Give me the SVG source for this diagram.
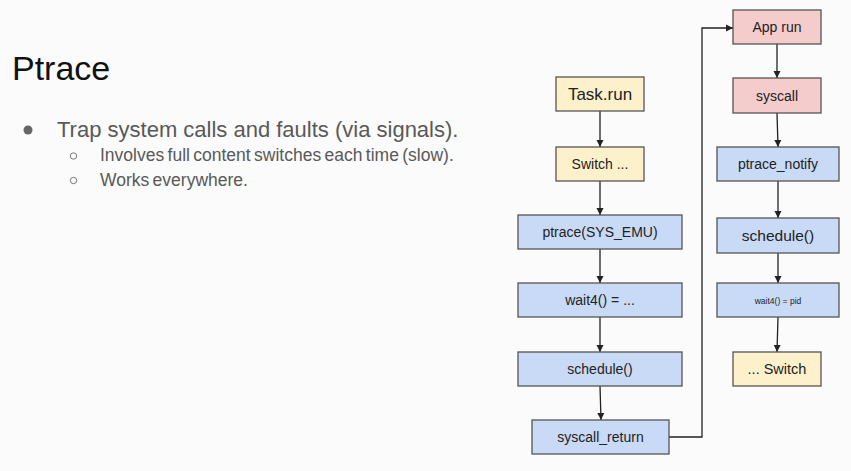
<svg xmlns="http://www.w3.org/2000/svg" width="851" height="471" viewBox="0 0 851 471">
<defs>
<marker id="ah" viewBox="0 0 10 10" refX="10" refY="5" markerWidth="7" markerHeight="8" markerUnits="userSpaceOnUse" orient="auto">
<path d="M0,0 L10,5 L0,10 z" fill="#222"/>
</marker>
<style>
.n{stroke:#555;stroke-width:1.3}
.y{fill:#fdf1cb}
.b{fill:#c9daf6}
.r{fill:#f4cccb}
.t{font-family:"Liberation Sans",Arial,sans-serif;fill:#222;text-anchor:middle}
.c{fill:none;stroke:#222;stroke-width:1.3}
.s{font-family:"Liberation Sans",Arial,sans-serif;fill:#595959}
</style>
</defs>
<rect width="851" height="471" fill="#fafbfa"/>
<text x="12" y="80" font-family="'Liberation Sans',Arial,sans-serif" font-size="34" fill="#111">Ptrace</text>
<g id="bullets">
<circle cx="28" cy="130" r="4.5" fill="#666"/>
<text class="s" x="57" y="137" font-size="22">Trap system calls and faults (via signals).</text>
<circle cx="73.5" cy="156" r="3.2" fill="none" stroke="#777" stroke-width="1"/>
<text class="s" x="100" y="161" font-size="17.5" word-spacing="-1.5">Involves full content switches each time (slow).</text>
<circle cx="73.5" cy="180.5" r="3.2" fill="none" stroke="#777" stroke-width="1"/>
<text class="s" x="100" y="186" font-size="17.5" word-spacing="-1.5">Works everywhere.</text>
</g>
<g id="connectors">
<line class="c" x1="600" y1="111" x2="600" y2="147" marker-end="url(#ah)"/>
<line class="c" x1="600" y1="181" x2="600" y2="215" marker-end="url(#ah)"/>
<line class="c" x1="600" y1="249" x2="600" y2="283" marker-end="url(#ah)"/>
<line class="c" x1="600" y1="317" x2="600" y2="352" marker-end="url(#ah)"/>
<line class="c" x1="600" y1="386" x2="601" y2="420" marker-end="url(#ah)"/>
<polyline class="c" points="669,437 702,437 702,28 733,28" marker-end="url(#ah)"/>
<line class="c" x1="777" y1="44" x2="777" y2="78" marker-end="url(#ah)"/>
<line class="c" x1="777" y1="113" x2="778" y2="147" marker-end="url(#ah)"/>
<line class="c" x1="778" y1="181" x2="778" y2="218" marker-end="url(#ah)"/>
<line class="c" x1="778" y1="253" x2="778" y2="283" marker-end="url(#ah)"/>
<line class="c" x1="778" y1="317" x2="777" y2="352" marker-end="url(#ah)"/>
</g>
<g id="task_run"><rect class="n y" x="556" y="77" width="88" height="34"/><text class="t" x="600" y="100" font-size="17">Task.run</text></g>
<g id="switch1"><rect class="n y" x="556" y="147" width="88" height="34"/><text class="t" x="600" y="169" font-size="14">Switch ...</text></g>
<g id="ptrace_sysemu"><rect class="n b" x="518" y="215" width="164" height="34"/><text class="t" x="600" y="237" font-size="14">ptrace(SYS_EMU)</text></g>
<g id="wait4_left"><rect class="n b" x="518" y="283" width="164" height="34"/><text class="t" x="600" y="305" font-size="14">wait4() = ...</text></g>
<g id="schedule_left"><rect class="n b" x="518" y="352" width="164" height="34"/><text class="t" x="600" y="374" font-size="14">schedule()</text></g>
<g id="syscall_return"><rect class="n b" x="532" y="420" width="137" height="34"/><text class="t" x="600.5" y="442" font-size="14">syscall_return</text></g>
<g id="app_run"><rect class="n r" x="733" y="10" width="88" height="34"/><text class="t" x="777" y="32" font-size="14">App run</text></g>
<g id="syscall"><rect class="n r" x="733" y="78" width="88" height="35"/><text class="t" x="777" y="101" font-size="14">syscall</text></g>
<g id="ptrace_notify"><rect class="n b" x="717" y="147" width="122" height="34"/><text class="t" x="778" y="169" font-size="14">ptrace_notify</text></g>
<g id="schedule_right"><rect class="n b" x="717" y="218" width="122" height="35"/><text class="t" x="778" y="241" font-size="15.5">schedule()</text></g>
<g id="wait4_right"><rect class="n b" x="717" y="283" width="122" height="34"/><text class="t" x="778" y="304" font-size="8.5">wait4() = pid</text></g>
<g id="switch2"><rect class="n y" x="733" y="352" width="88" height="34"/><text class="t" x="777" y="374" font-size="14.5">... Switch</text></g>
</svg>
